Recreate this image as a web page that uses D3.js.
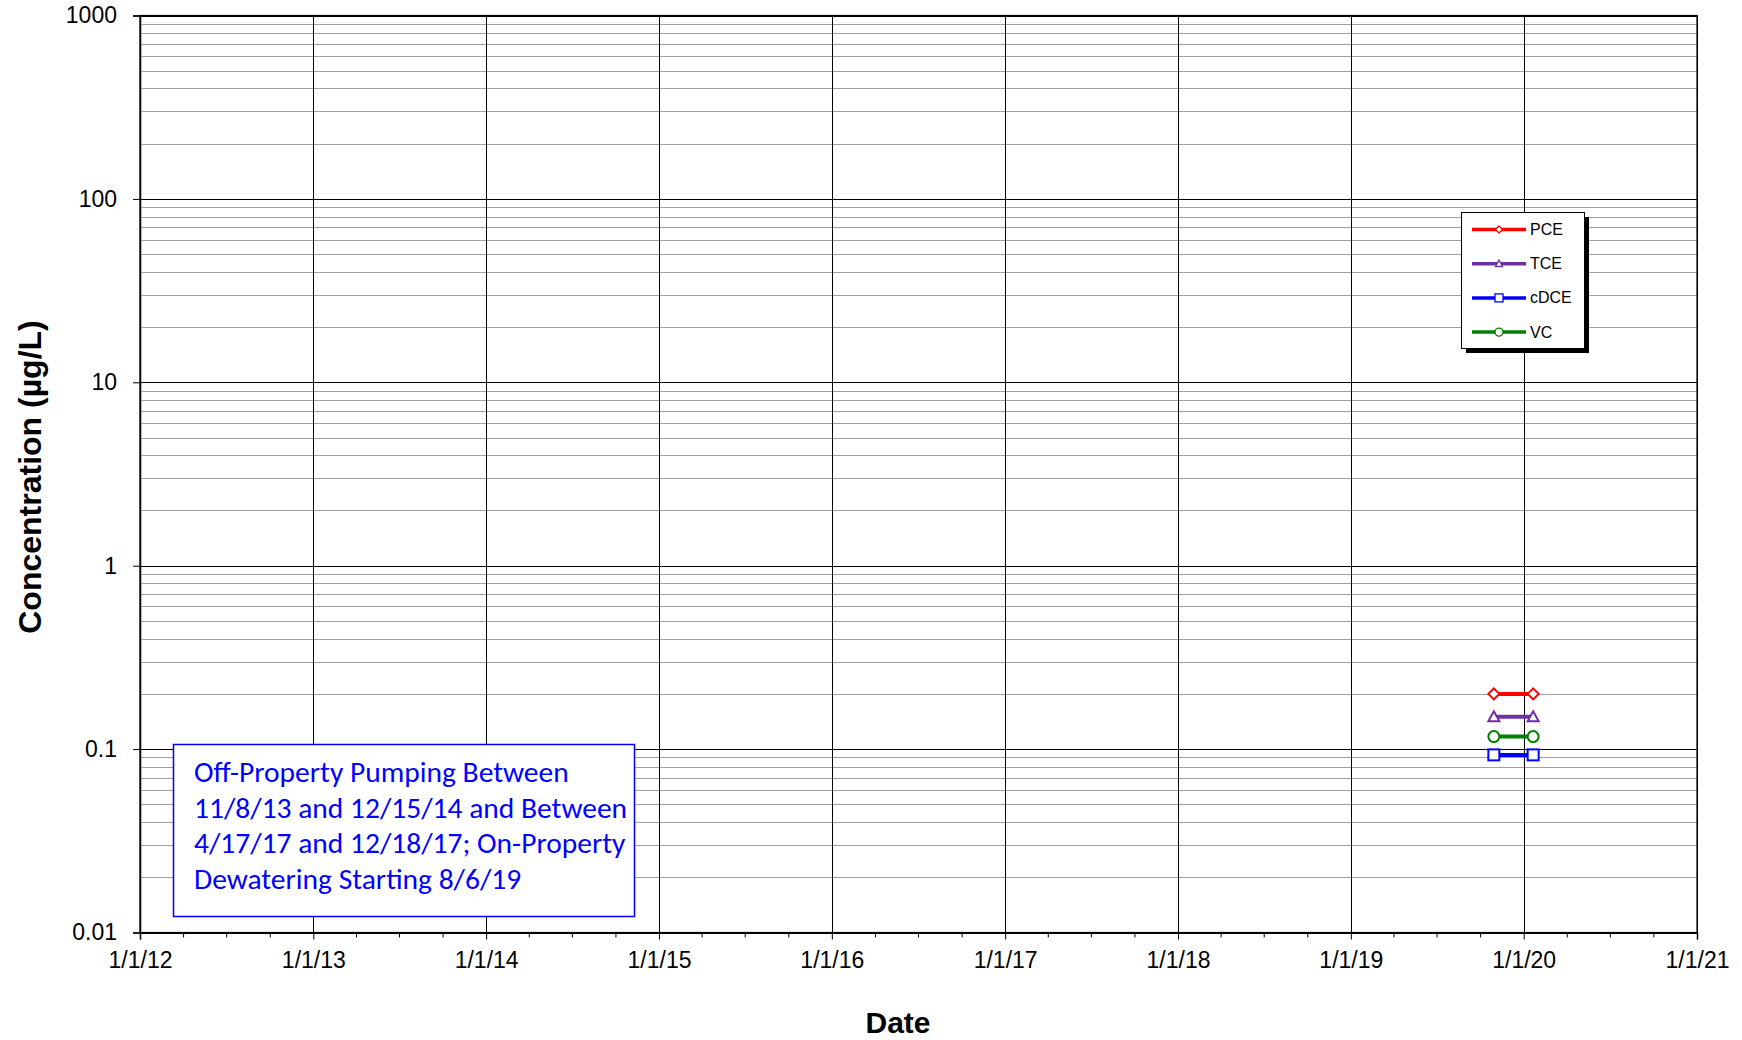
<!DOCTYPE html>
<html><head><meta charset="utf-8">
<script src="https://cdn.jsdelivr.net/npm/d3@7"></script>
<style>body{margin:0;background:#fff}svg{display:block}</style>
</head><body>
<svg id="c" width="1742" height="1040"></svg>
<script>
const sampleDates = ["2019-10-30", "2020-01-21"];
const pceValues = [0.2, 0.2];
const tceValues = [0.15, 0.15];
const cdceValues = [0.093, 0.093];
const vcValues = [0.117, 0.117];
const seriesNames = ["PCE", "TCE", "cDCE", "VC"];
const seriesColors = ["#ff0000", "#7030a0", "#0000ff", "#008000"];
const seriesMarkers = ["diamond", "triangle", "square", "circle"];
const yTickValues = [0.01, 0.1, 1, 10, 100, 1000];
const yTickLabels = ["0.01", "0.1", "1", "10", "100", "1000"];
const xStart = "2012-01-01", xEnd = "2021-01-01";
const noteLines = ["Off-Property Pumping Between", "11/8/13 and 12/15/14 and Between", "4/17/17 and 12/18/17; On-Property", "Dewatering Starting 8/6/19"];

const seriesValues = [pceValues, tceValues, cdceValues, vcValues];
const parse = d3.timeParse("%Y-%m-%d");
const svg = d3.select("#c");
const AF = "'Liberation Sans', Arial, sans-serif";
const L = 140, R = 1697, T = 15.5, B = 932.5;
const x = d3.scaleTime().domain([parse(xStart), parse(xEnd)]).range([L, R]);
const y = d3.scaleLog().domain([0.01, 1000]).range([B, T]);

// minor horizontal gridlines
const minor = [];
for (let e = -2; e < 3; e++) for (let m = 2; m <= 9; m++) minor.push(m * Math.pow(10, e));
svg.append("g").selectAll("line").data(minor).join("line")
  .attr("x1", L).attr("x2", R).attr("y1", d => Math.round(y(d)) + 0.5).attr("y2", d => Math.round(y(d)) + 0.5)
  .attr("stroke", "#a0a0a0").attr("stroke-width", 1);
// major horizontal gridlines
svg.append("g").selectAll("line").data(yTickValues).join("line")
  .attr("x1", L).attr("x2", R).attr("y1", d => Math.round(y(d)) + 0.5).attr("y2", d => Math.round(y(d)) + 0.5)
  .attr("stroke", "#000").attr("stroke-width", 1);
// vertical gridlines
const years = d3.timeYear.range(parse(xStart), d3.timeDay.offset(parse(xEnd), 1));
svg.append("g").selectAll("line").data(years).join("line")
  .attr("y1", T).attr("y2", B).attr("x1", d => Math.round(x(d)) + 0.5).attr("x2", d => Math.round(x(d)) + 0.5)
  .attr("stroke", "#000").attr("stroke-width", 1);

// x axis
const fmt = d3.timeFormat("%-m/%-d/%y");
const xMinor = d3.timeMonth.every(3).range(parse(xStart), d3.timeDay.offset(parse(xEnd), 1)).filter(d => d.getMonth() !== 0);
svg.append("g").attr("transform", `translate(0,${B})`)
  .call(d3.axisBottom(x).tickValues(xMinor).tickSize(5).tickFormat(""))
  .call(g => { g.select(".domain").remove(); g.selectAll("line").attr("stroke", "#000"); });
const xAx = svg.append("g").attr("transform", `translate(0,${B})`)
  .call(d3.axisBottom(x).tickValues(years).tickSize(7).tickPadding(12).tickFormat(fmt));
xAx.select(".domain").attr("stroke", "#000").attr("stroke-width", 1.5);
xAx.selectAll("text").style("font-family", AF).attr("font-size", 23).attr("fill", "#000");
xAx.selectAll("line").attr("stroke", "#000");

// y axis
const yAx = svg.append("g").attr("transform", `translate(${L},0)`)
  .call(d3.axisLeft(y).tickValues(yTickValues).tickSize(7).tickPadding(16).tickFormat((d, i) => yTickLabels[i]));
yAx.select(".domain").attr("stroke", "#000").attr("stroke-width", 1.5);
yAx.selectAll("text").style("font-family", AF).attr("font-size", 23).attr("fill", "#000");
yAx.selectAll("line").attr("stroke", "#000");

// frame
svg.append("rect").attr("x", L).attr("y", T).attr("width", R - L).attr("height", B - T)
  .attr("fill", "none").attr("stroke", "#000").attr("stroke-width", 1.2);

// axis titles
svg.append("text").attr("x", 898).attr("y", 1033).attr("text-anchor", "middle")
  .style("font-family", AF).attr("font-weight", "bold").attr("font-size", 30).text("Date");
svg.append("text").attr("transform", `translate(41,477) rotate(-90)`).attr("text-anchor", "middle")
  .style("font-family", AF).attr("font-weight", "bold").attr("font-size", 32).text("Concentration (µg/L)");

// marker drawing
function marker(g, type, cx, cy, s, color, sw) {
  let m;
  if (type === "diamond") m = g.append("path").attr("d", `M${cx},${cy - s}L${cx + s},${cy}L${cx},${cy + s}L${cx - s},${cy}Z`);
  else if (type === "triangle") m = g.append("path").attr("d", `M${cx},${cy - s}L${cx + s},${cy + s * 0.8}L${cx - s},${cy + s * 0.8}Z`);
  else if (type === "square") m = g.append("rect").attr("x", cx - s).attr("y", cy - s).attr("width", 2 * s).attr("height", 2 * s);
  else m = g.append("circle").attr("cx", cx).attr("cy", cy).attr("r", s);
  m.attr("fill", "#fff").attr("stroke", color).attr("stroke-width", sw);
}

// series
const dates = sampleDates.map(parse);
const line = d3.line().x(d => x(d.date)).y(d => y(d.v));
const drawOrder = [0, 1, 3, 2];
drawOrder.forEach(i => {
  const pts = dates.map((d, k) => ({date: d, v: seriesValues[i][k]}));
  const g = svg.append("g");
  g.append("path").datum(pts).attr("d", line).attr("fill", "none").attr("stroke", seriesColors[i]).attr("stroke-width", 4);
  pts.forEach(p => {
    marker(g, seriesMarkers[i], x(p.date), y(p.v), 5.5, seriesColors[i], 2);
  });
});

// legend
const lg = svg.append("g");
lg.append("rect").attr("x", 1466).attr("y", 217).attr("width", 123).attr("height", 136).attr("fill", "#000");
lg.append("rect").attr("x", 1461.5).attr("y", 212.5).attr("width", 123).attr("height", 136).attr("fill", "#fff").attr("stroke", "#000").attr("stroke-width", 1);
seriesNames.forEach((n, i) => {
  const cy = 229.5 + i * 34.2;
  lg.append("line").attr("x1", 1472).attr("x2", 1526).attr("y1", cy).attr("y2", cy).attr("stroke", seriesColors[i]).attr("stroke-width", 3.5);
  const s = seriesMarkers[i] === "square" ? 4 : seriesMarkers[i] === "circle" ? 4 : 3.5;
  marker(lg.append("g"), seriesMarkers[i], 1499, cy, s, seriesColors[i], 1.3);
  lg.append("text").attr("x", 1530).attr("y", cy + 5.5).style("font-family", AF).attr("font-size", 16).text(n);
});

// note box
const nb = svg.append("g");
nb.append("rect").attr("x", 173.5).attr("y", 744.5).attr("width", 461).attr("height", 172).attr("fill", "#fff").attr("stroke", "#0000ff").attr("stroke-width", 1.5);
noteLines.forEach((t, i) => {
  nb.append("text").attr("x", 194).attr("y", 782 + i * 35.5).attr("fill", "#0000ff")
    .style("font-family", "Carlito, Calibri, sans-serif").attr("font-size", 29.5).text(t);
});
</script>
</body></html>
